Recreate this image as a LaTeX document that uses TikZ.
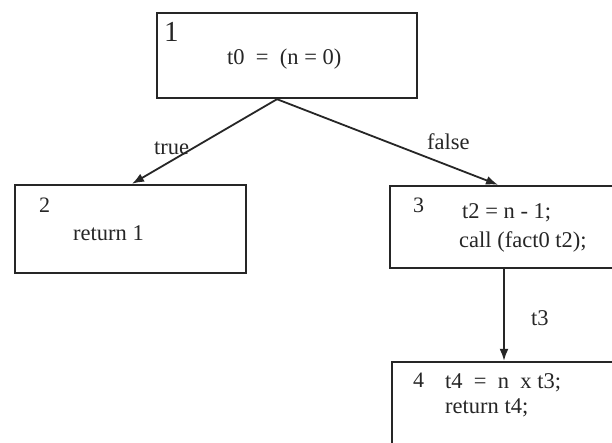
\documentclass[tikz,border=0pt]{standalone}
\usepackage{fontspec}
\setmainfont{Liberation Serif}
\usetikzlibrary{arrows.meta}
\definecolor{ink}{HTML}{262626}
\tikzset{
  blk/.style={draw=ink, line width=2.4pt, rectangle, inner sep=0pt},
  txt/.style={anchor=base west, inner sep=0pt, text=ink, font=\fontsize{22.5}{26}\selectfont},
  num/.style={anchor=base west, inner sep=0pt, text=ink, font=\fontsize{22}{26}\selectfont},
  arr/.style={draw=ink, line width=1.8pt, -{Latex[length=12pt,width=9pt]}}
}
\begin{document}
\begin{tikzpicture}[x=1pt,y=-1pt]
\useasboundingbox (0,0) rectangle (612,443);
\clip (0,0) rectangle (612,443);
\fill[white] (0,0) rectangle (612,443);
% blocks
\node[blk, minimum width=260pt, minimum height=85pt] (b1) at (287,55.5) {};
\node[blk, minimum width=231pt, minimum height=88pt] (b2) at (130.5,229) {};
\node[blk, minimum width=250pt, minimum height=82pt] (b3) at (515,227) {};
\node[blk, minimum width=250pt, minimum height=86pt] (b4) at (517,405) {};
% block texts
\node[num, font=\fontsize{29}{32}\selectfont] (n1) at (164,42) {1};
\node[txt] (t1) at (227,65) {t0 \ = \ (n = 0)};
\node[num] (n2) at (39,213) {2};
\node[txt] (t2) at (73,241) {return 1};
\node[num] (n3) at (413,213) {3};
\node[txt] (t3a) at (462,219) {t2 = n - 1;};
\node[txt] (t3b) at (459,248) {call (fact0 t2);};
\node[num] (n4) at (413,387) {4};
\node[txt] (t4a) at (445,388) {t4 \ = \ n \ x t3;};
\node[txt] (t4b) at (445,413) {return t4;};
% connector ends
\coordinate (apex) at (b1.south -| 277,0);
\coordinate (tip2) at (b2.north -| 132,0);
\coordinate (tip3) at (b3.north -| 498,0);
\coordinate (src4) at (b3.south -| 504,0);
\coordinate (tip4) at (b4.north -| 504,0);
\draw[arr] (apex) -- (tip2);
\draw[arr] (apex) -- (tip3);
\draw[arr] (src4) -- (tip4);
% edge labels
\node[txt] (ltrue) at (154,155) {true};
\node[txt] (lfalse) at (427,150) {false};
\node[txt] (lt3) at (531,325) {t3};
\end{tikzpicture}
\end{document}
